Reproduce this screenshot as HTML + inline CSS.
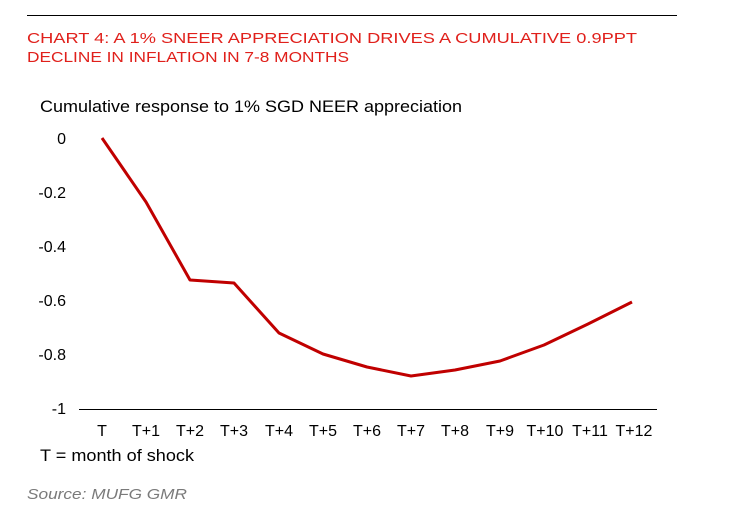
<!DOCTYPE html>
<html><head><style>
html,body{margin:0;padding:0;background:#fff;}
body{width:731px;height:516px;overflow:hidden;}
</style></head><body>
<svg width="731" height="516" xmlns="http://www.w3.org/2000/svg" font-family="Liberation Sans, Arial, sans-serif">
<line x1="27" y1="15.5" x2="677" y2="15.5" stroke="#000" stroke-width="1"/>
<text x="27" y="43" font-size="15" fill="#e0201b" textLength="610" lengthAdjust="spacingAndGlyphs">CHART 4: A 1% SNEER APPRECIATION DRIVES A CUMULATIVE 0.9PPT</text>
<text x="27" y="62" font-size="15" fill="#e0201b" textLength="322" lengthAdjust="spacingAndGlyphs">DECLINE IN INFLATION IN 7-8 MONTHS</text>
<text x="40" y="112" font-size="16.5" fill="#000" textLength="422" lengthAdjust="spacingAndGlyphs">Cumulative response to 1% SGD NEER appreciation</text>
<g font-size="16" fill="#000" text-anchor="end">
<text x="66" y="144">0</text>
<text x="66" y="198">-0.2</text>
<text x="66" y="252">-0.4</text>
<text x="66" y="306">-0.6</text>
<text x="66" y="360">-0.8</text>
<text x="66" y="414">-1</text>
</g>
<line x1="79" y1="409.5" x2="657" y2="409.5" stroke="#000" stroke-width="1"/>
<g font-size="16" fill="#000" text-anchor="middle">
<text x="102" y="436">T</text><text x="146" y="436">T+1</text><text x="190" y="436">T+2</text>
<text x="234" y="436">T+3</text><text x="279" y="436">T+4</text><text x="323" y="436">T+5</text>
<text x="367" y="436">T+6</text><text x="411" y="436">T+7</text><text x="455" y="436">T+8</text>
<text x="500" y="436">T+9</text><text x="545" y="436">T+10</text><text x="590" y="436">T+11</text>
<text x="634" y="436">T+12</text>
</g>
<text x="40" y="461" font-size="16.5" fill="#000" textLength="154" lengthAdjust="spacingAndGlyphs">T = month of shock</text>
<text x="27" y="499" font-size="15" font-style="italic" fill="#7a7a7a" textLength="160" lengthAdjust="spacingAndGlyphs">Source: MUFG GMR</text>
<polyline fill="none" stroke="#c00000" stroke-width="3" stroke-linejoin="round"
points="102,138 146,202 190,280 234,283 279,333 323,354 367,367 411,376 455,370 500,361 544,345 588,324 632,302"/>
</svg>
</body></html>
